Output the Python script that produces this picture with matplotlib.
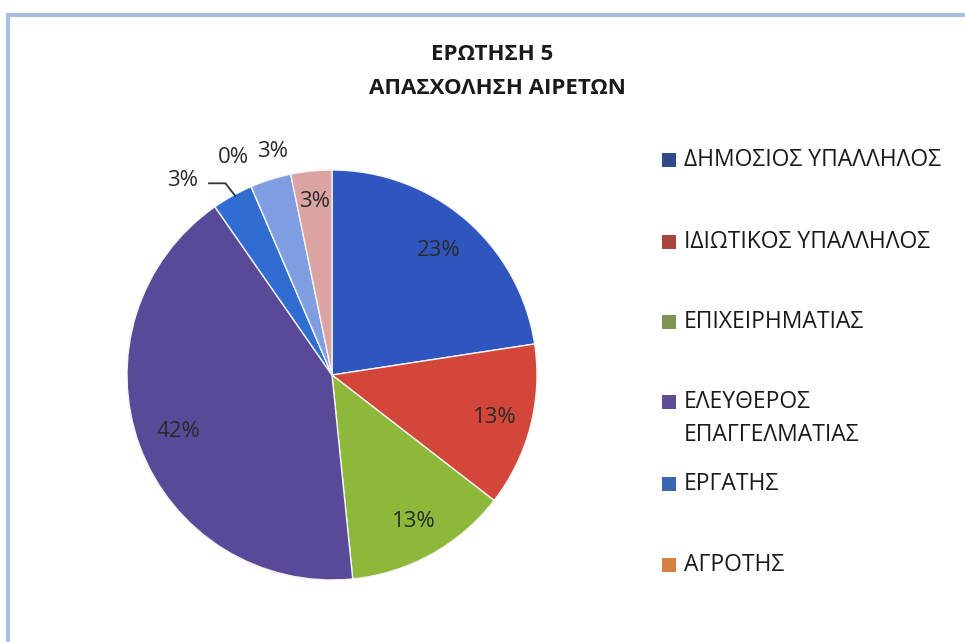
import matplotlib
matplotlib.use("Agg")
import matplotlib.pyplot as plt
from matplotlib.patches import Rectangle
from matplotlib.lines import Line2D
import numpy as np

plt.rcParams['font.family'] = ['Open Sans', 'DejaVu Sans']

# ---- data ----
title_lines = ["ΕΡΩΤΗΣΗ 5", "ΑΠΑΣΧΟΛΗΣΗ ΑΙΡΕΤΩΝ"]
categories = ["ΔΗΜΟΣΙΟΣ ΥΠΑΛΛΗΛΟΣ", "ΙΔΙΩΤΙΚΟΣ ΥΠΑΛΛΗΛΟΣ", "ΕΠΙΧΕΙΡΗΜΑΤΙΑΣ",
              "ΕΛΕΥΘΕΡΟΣ\nΕΠΑΓΓΕΛΜΑΤΙΑΣ", "ΕΡΓΑΤΗΣ", "ΑΓΡΟΤΗΣ", "", ""]
counts = [7, 4, 4, 13, 1, 0, 1, 1]
legend_count = 6

colors = ["#2F56BE", "#D3473A", "#8DB83A", "#5A4999", "#2F6ED0", "#E8813E",
          "#7F9DE0", "#DCA3A3"]
swatch_colors = ["#2E4A8C", "#A8443E", "#7E9450", "#5E4C96", "#3A68B0", "#D57F45"]
label_r = [0.80, 0.82, 0.82, 0.80, None, None, None, 0.85]
# outside label positions (in pie radius units) for the thin slices
outside_pos = {4: (-0.727, 0.951), 5: (-0.483, 1.059), 6: (-0.288, 1.088)}

W, H = 965, 642
fig = plt.figure(figsize=(W / 100, H / 100), dpi=100)
fig.patch.set_facecolor("white")

# frame
fig.add_artist(Line2D([8 / W, 1.0], [1 - 15 / H, 1 - 15 / H], color="#A8BFE6", lw=3,
                      transform=fig.transFigure))
fig.add_artist(Line2D([8 / W, 8 / W], [0, 1 - 15 / H], color="#A8BFE6", lw=3,
                      transform=fig.transFigure))

# title
fig.text(492 / W, 1 - 55 / H, title_lines[0], ha="center", va="center",
         fontsize=16, fontweight="bold", color="#1a1a1a")
fig.text(497 / W, 1 - 88 / H, title_lines[1], ha="center", va="center",
         fontsize=16, fontweight="bold", color="#1a1a1a")

# pie axes
cx, cy, R = 332, 375, 205
ax = fig.add_axes([(cx - R) / W, (H - cy - R) / H, 2 * R / W, 2 * R / H])
ax.axis("off")

wedges, _ = ax.pie(counts, colors=colors, startangle=90, counterclock=False,
                   radius=1.0, wedgeprops=dict(edgecolor="#f4f4f4", linewidth=1.0))
ax.set_xlim(-1, 1)
ax.set_ylim(-1, 1)
ax.set_aspect("equal")

total = sum(counts)
fs_pct = 16
for i, w in enumerate(wedges):
    pct = f"{round(100 * counts[i] / total):.0f}%"
    if i in outside_pos:
        x, y = outside_pos[i]
    else:
        ang = np.deg2rad((w.theta1 + w.theta2) / 2)
        x, y = label_r[i] * np.cos(ang), label_r[i] * np.sin(ang)
    if i == 5:
        ang = np.deg2rad(w.theta1)
        ex, ey = 0.995 * np.cos(ang), 0.995 * np.sin(ang)
        ax.plot([-0.60, -0.52, ex - 0.08], [0.935, 0.935, ey - 0.04], color="#333333",
                lw=1.3, clip_on=False)
    ax.text(x, y, pct, ha="center", va="center", fontsize=fs_pct, color="#2a2a2a",
            clip_on=False)

# legend
ys = [160, 242, 322, 402, 484, 565]
for i in range(legend_count):
    y = ys[i]
    fig.add_artist(Rectangle((662 / W, 1 - (y + 7) / H), 14 / W, 14 / H,
                             facecolor=swatch_colors[i], edgecolor="none",
                             transform=fig.transFigure))
    for k, line in enumerate(categories[i].split("\n")):
        fig.text(684 / W, 1 - (y + 33 * k) / H, line, ha="left", va="center",
                 fontsize=16.5, color="#1a1a1a")

fig.savefig("out.png", dpi=100, facecolor="white")
